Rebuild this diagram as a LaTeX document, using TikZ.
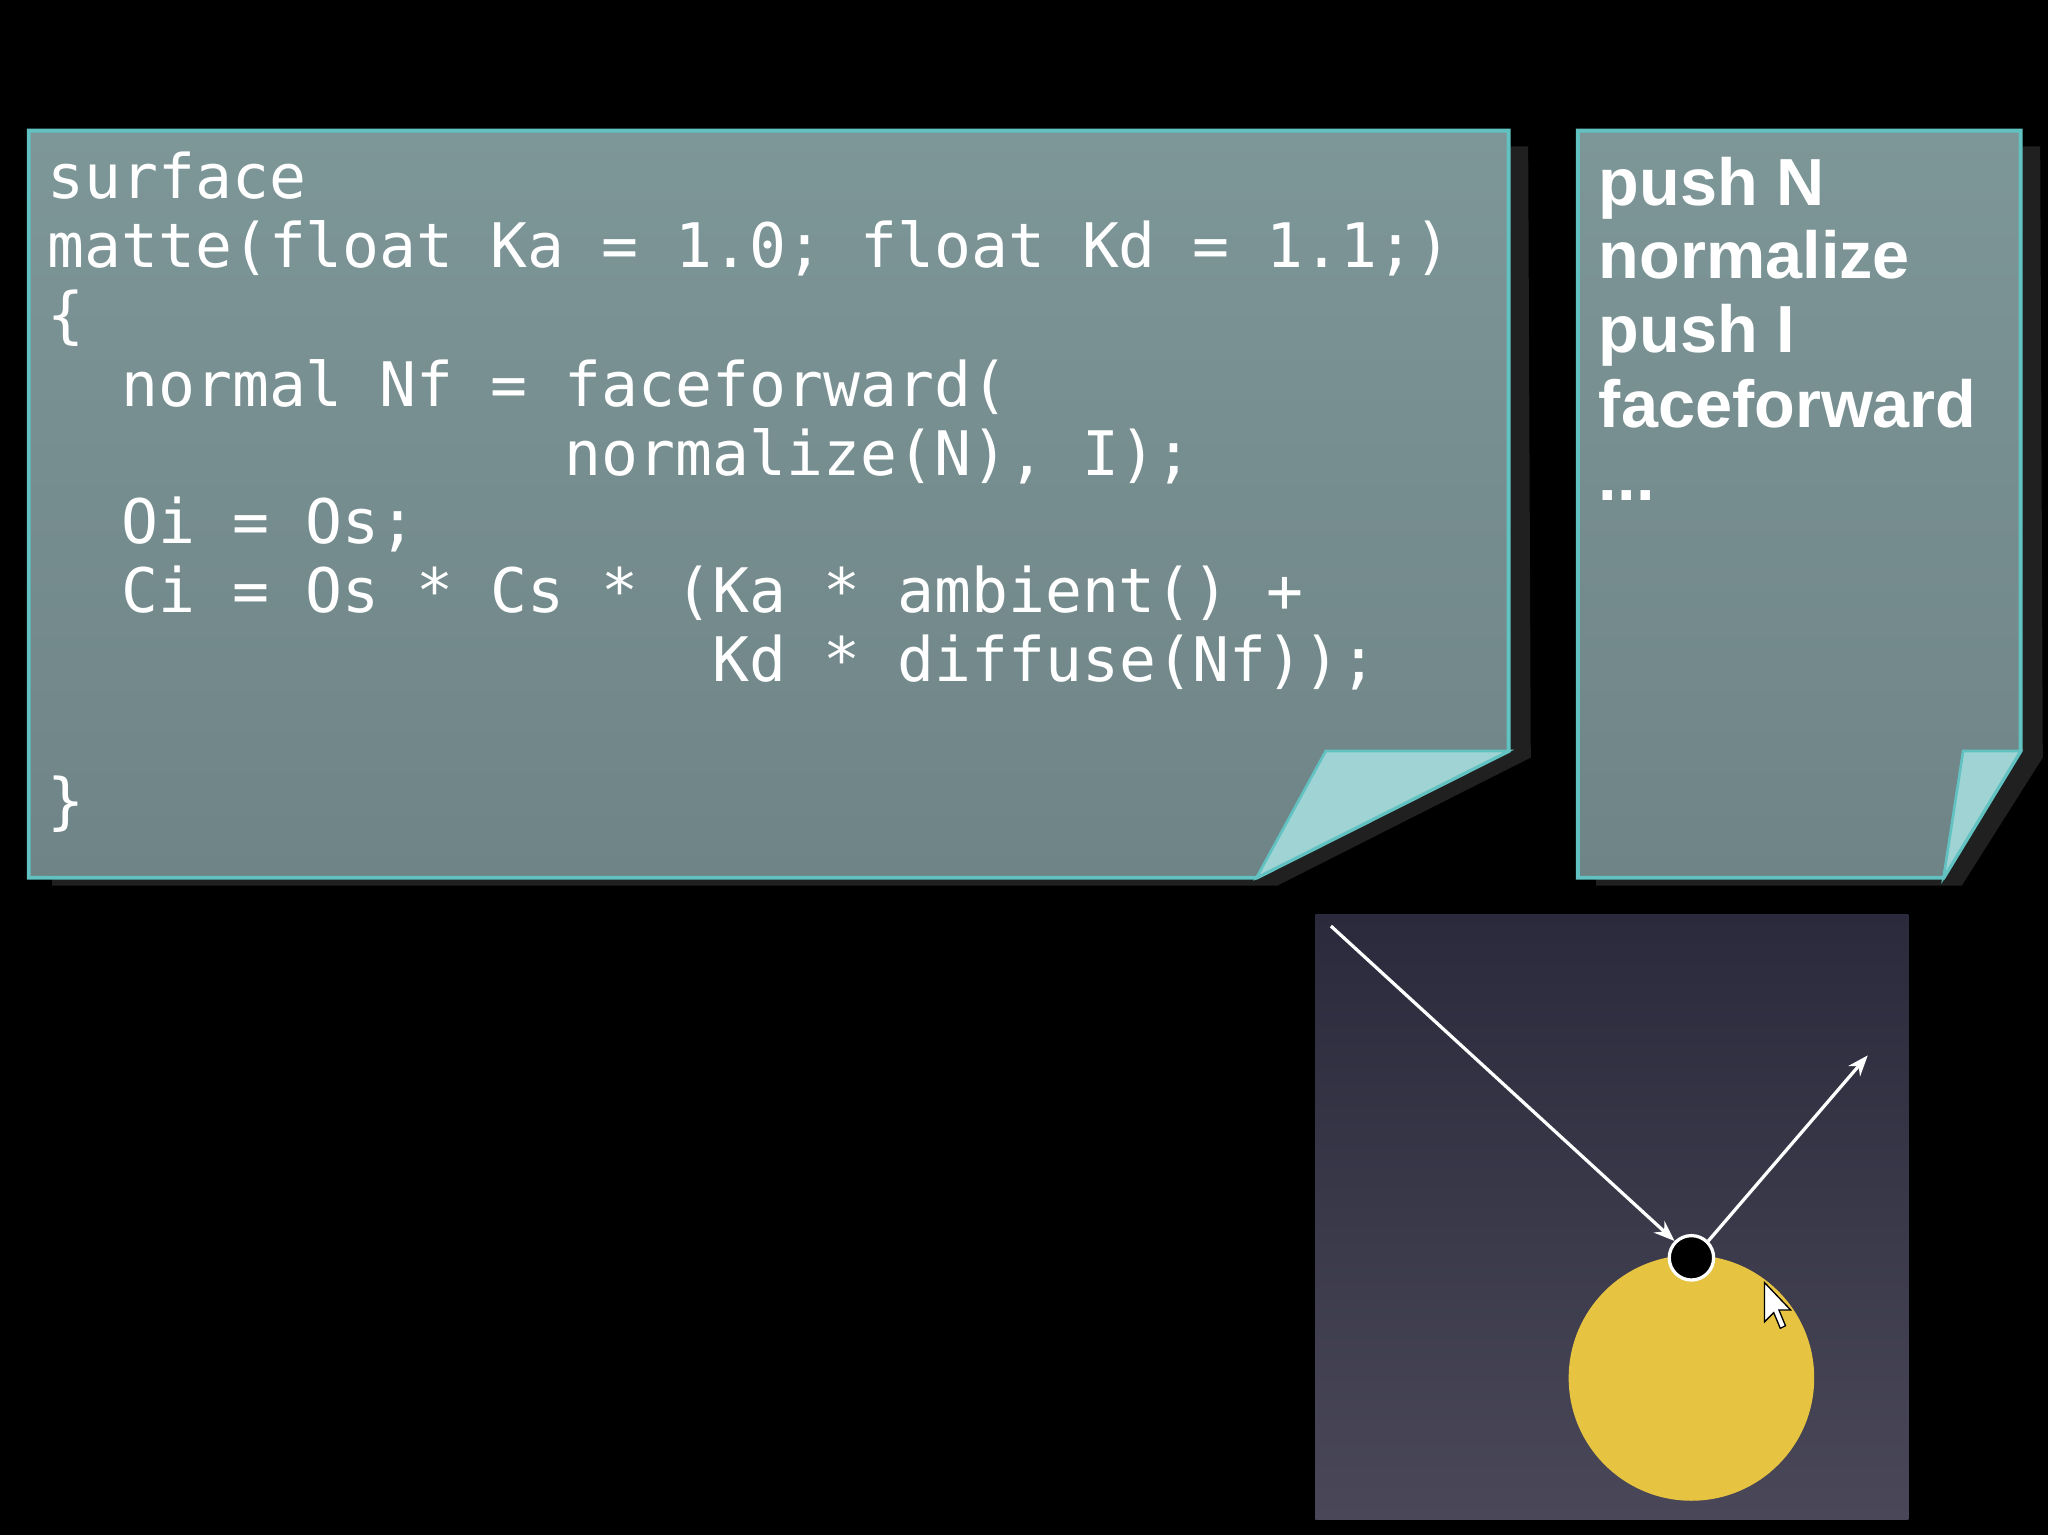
\documentclass[tikz,border=0pt]{standalone}
\usepackage{fontspec}
\usetikzlibrary{arrows.meta}
\setmainfont{Liberation Sans}
\setmonofont{DejaVu Sans Mono}
\begin{document}
\begin{tikzpicture}[x=1pt,y=-1pt,
  panel/.style={draw=edge,line width=3pt,top color=panelT,bottom color=panelB},
  code/.style={anchor=base west,inner sep=0pt,text=white,font=\ttfamily\fontsize{47}{47}\selectfont},
  ops/.style={anchor=base west,inner sep=0pt,text=white,font=\bfseries\fontsize{51}{51}\selectfont},
  ray/.style={draw=white,line width=2.5pt,-{Stealth[length=16pt,width=12pt]}}]
\definecolor{panelT}{HTML}{7D9698}
\definecolor{panelB}{HTML}{6F8486}
\definecolor{curl}{HTML}{9FD3D4}
\definecolor{edge}{HTML}{62C2C2}
\definecolor{skyT}{HTML}{2A2A3C}
\definecolor{skyB}{HTML}{4A4858}
\definecolor{sun}{HTML}{E6C441}
\fill[black] (0,0) rectangle (1568,1175);
\useasboundingbox (0,0) rectangle (1568,1175);
% left panel
\fill[gray!25!black] (40,112) -- (1170,112) -- (1172,580) -- (978,678) -- (40,678) -- cycle;
\path[panel] (22,100) -- (1155,100) -- (1155,575) -- (962,672) -- (22,672) -- cycle;
\fill[curl,draw=edge,line width=2pt] (962,672) -- (1015,575) -- (1155,575) -- cycle;
\node[code] (l1) at (36,152) {surface};
\node[code] (l2) at (36,205) {matte(float Ka = 1.0; float Kd = 1.1;)};
\node[code] (l3) at (36,258) {\{};
\node[code] (l4) at (36,311) {\ \ normal Nf = faceforward(};
\node[code] (l5) at (36,364) {\ \ \ \ \ \ \ \ \ \ \ \ \ \ normalize(N), I);};
\node[code] (l6) at (36,416) {\ \ Oi = Os;};
\node[code] (l7) at (36,469) {\ \ Ci = Os * Cs * (Ka * ambient() +};
\node[code] (l8) at (36,522) {\ \ \ \ \ \ \ \ \ \ \ \ \ \ \ \ \ \ Kd * diffuse(Nf));};
\node[code] (l9) at (36,630) {\}};
% right panel
\fill[gray!25!black] (1222,112) -- (1562,112) -- (1564,580) -- (1502,678) -- (1222,678) -- cycle;
\path[panel] (1208,100) -- (1547,100) -- (1547,575) -- (1488,672) -- (1208,672) -- cycle;
\fill[curl,draw=edge,line width=2pt] (1488,672) -- (1503,575) -- (1547,575) -- cycle;
\node[ops] (r1) at (1224,157) {push N};
\node[ops] (r2) at (1224,213) {normalize};
\node[ops] (r3) at (1224,270) {push I};
\node[ops] (r4) at (1224,327) {faceforward};
\node[ops] (r5) at (1224,383) {...};
% scene
\shade[top color=skyT,bottom color=skyB] (1007,700) rectangle (1461,1163);
\fill[sun] (1295,1055) circle (94);
\node[circle,fill=black,draw=white,line width=2.5pt,minimum size=34pt,inner sep=0pt] (p) at (1295,963) {};
\coordinate (src) at (1019,709);
\coordinate (dst) at (1430,808);
\draw[ray] (src) -- (p.135);
\draw[ray] (p.45) -- (dst);
% cursor
\draw[fill=white,draw=black,line width=1pt] (1351,982) -- (1351,1012) -- (1358,1005) -- (1363,1017) -- (1367,1015) -- (1362,1003) -- (1371,1003) -- cycle;
\end{tikzpicture}
\end{document}
